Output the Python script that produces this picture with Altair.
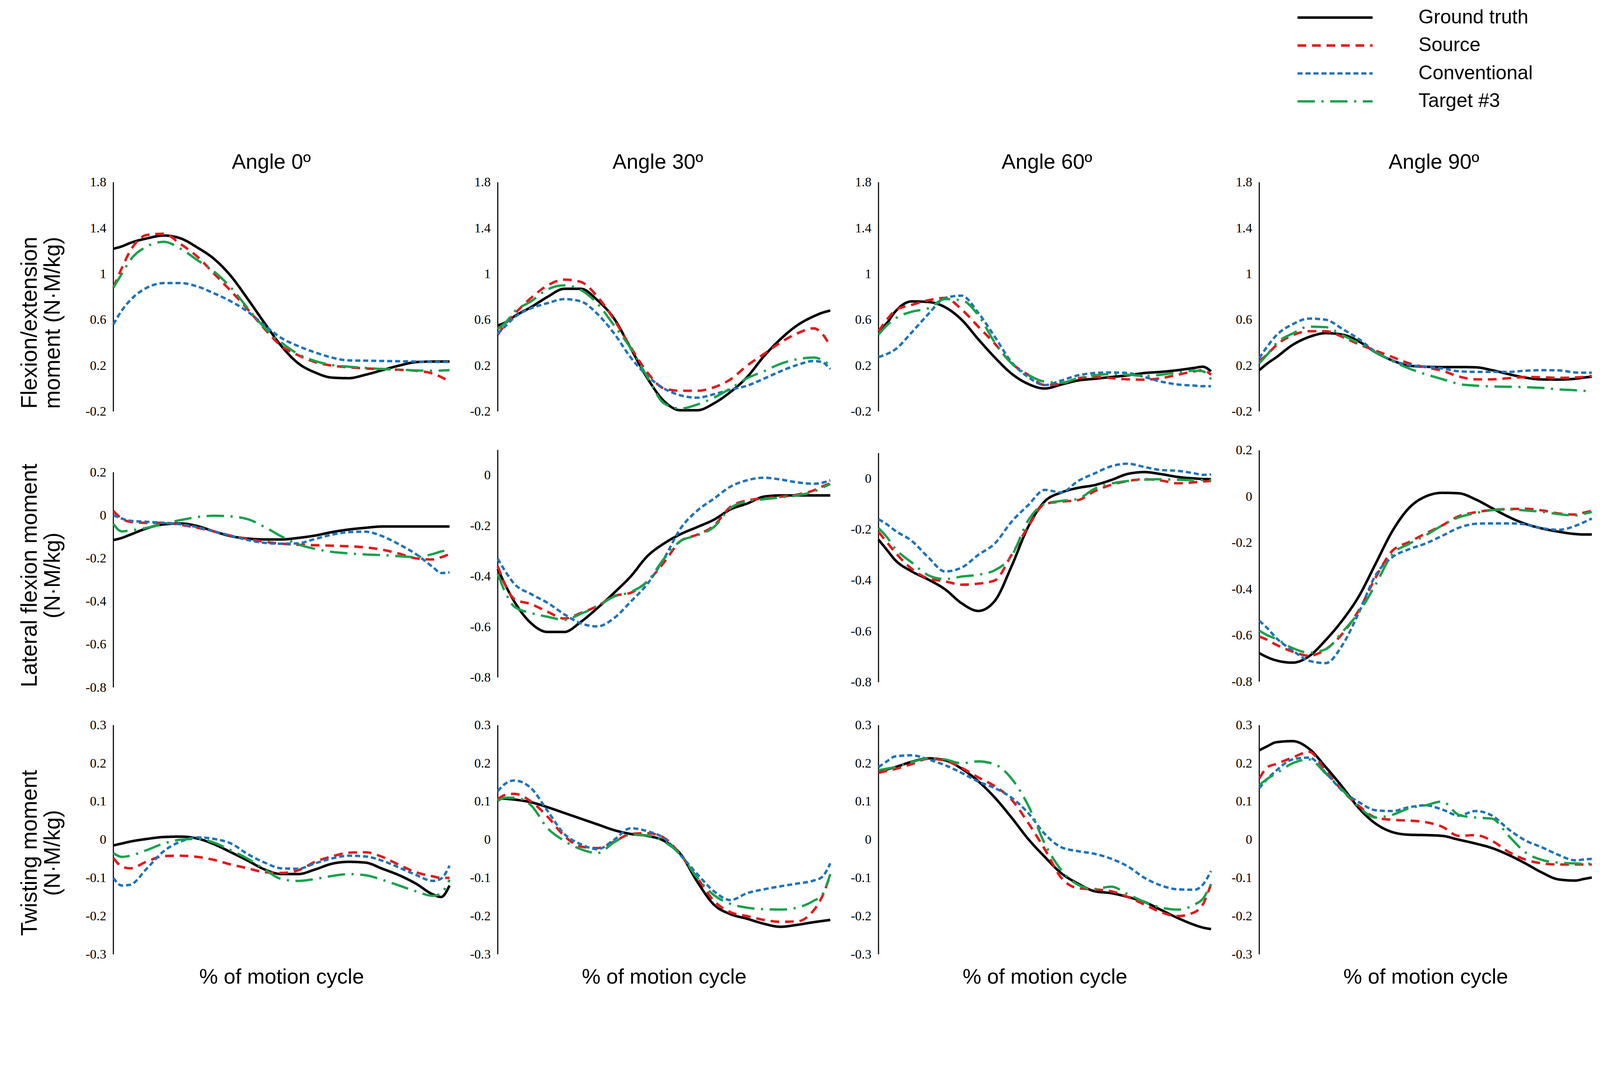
import altair as alt
import pandas as pd

# ---------------- data ----------------
X = [0, 2.5, 5, 10, 15, 20, 25, 30, 35, 40, 45, 50, 55, 60, 65, 70, 75, 80, 85, 90, 95, 97.5, 100]
SERIES = ["Ground truth", "Source", "Conventional", "Target #3"]
COLORS = ["#000000", "#e3191c", "#1f73b8", "#17a24b"]
DASHES = [[1, 0], [24, 16], [14, 8], [48, 18, 6, 18]]
WIDTHS = [7, 6.5, 6.5, 6.5]
ANGLES = ["Angle 0º", "Angle 30º", "Angle 60º", "Angle 90º"]
ROW_TITLES = [["Flexion/extension", "moment (N·M/kg)"],
              ["Lateral flexion moment", "(N·M/kg)"],
              ["Twisting moment", "(N·M/kg)"]]
X_TITLE = "% of motion cycle"

TICKS_R1 = [-0.2, 0.2, 0.6, 1, 1.4, 1.8]
TICKS_R2_A = [-0.8, -0.6, -0.4, -0.2, 0, 0.2]
TICKS_R2_B = [-0.8, -0.6, -0.4, -0.2, 0]
TICKS_R3 = [-0.3, -0.2, -0.1, 0, 0.1, 0.2, 0.3]

# Row 1: flexion/extension
R1C1_GT = [1.22, 1.24, 1.27, 1.31, 1.335, 1.31, 1.23, 1.13, 0.98, 0.78, 0.57, 0.37, 0.22, 0.14, 0.095, 0.09, 0.12, 0.16, 0.2, 0.23, 0.235, 0.235, 0.235]
R1C1_SRC = [0.88, 1.05, 1.2, 1.34, 1.35, 1.26, 1.15, 1.0, 0.85, 0.69, 0.52, 0.37, 0.29, 0.23, 0.2, 0.185, 0.175, 0.17, 0.163, 0.155, 0.13, 0.1, 0.06]
R1C1_CONV = [0.56, 0.68, 0.77, 0.88, 0.92, 0.92, 0.89, 0.83, 0.76, 0.67, 0.55, 0.44, 0.37, 0.315, 0.27, 0.245, 0.243, 0.24, 0.238, 0.235, 0.232, 0.232, 0.232]
R1C1_TGT = [0.88, 1.0, 1.12, 1.24, 1.28, 1.22, 1.12, 1.02, 0.88, 0.7, 0.53, 0.4, 0.3, 0.24, 0.205, 0.19, 0.18, 0.17, 0.165, 0.158, 0.155, 0.157, 0.16]

R1C2_GT = [0.55, 0.58, 0.63, 0.71, 0.80, 0.87, 0.87, 0.77, 0.61, 0.35, 0.09, -0.11, -0.19, -0.19, -0.13, -0.03, 0.1, 0.28, 0.43, 0.55, 0.63, 0.66, 0.68]
R1C2_SRC = [0.47, 0.57, 0.65, 0.79, 0.9, 0.95, 0.93, 0.8, 0.6, 0.36, 0.14, 0.0, -0.02, -0.02, 0.01, 0.08, 0.2, 0.3, 0.4, 0.48, 0.525, 0.48, 0.37]
R1C2_CONV = [0.48, 0.55, 0.62, 0.7, 0.745, 0.78, 0.76, 0.65, 0.48, 0.27, 0.11, 0.0, -0.06, -0.08, -0.05, -0.01, 0.025, 0.085, 0.15, 0.205, 0.24, 0.23, 0.17]
R1C2_TGT = [0.52, 0.58, 0.67, 0.76, 0.865, 0.9, 0.86, 0.74, 0.55, 0.35, 0.1, -0.13, -0.175, -0.14, -0.08, 0.0, 0.09, 0.15, 0.215, 0.255, 0.27, 0.25, 0.2]

R1C3_GT = [0.5, 0.57, 0.67, 0.76, 0.755, 0.71, 0.6, 0.43, 0.27, 0.13, 0.04, 0.0, 0.035, 0.07, 0.085, 0.1, 0.115, 0.135, 0.145, 0.16, 0.18, 0.19, 0.15]
R1C3_SRC = [0.5, 0.6, 0.68, 0.73, 0.77, 0.79, 0.69, 0.54, 0.39, 0.22, 0.12, 0.03, 0.04, 0.09, 0.1, 0.09, 0.08, 0.077, 0.09, 0.12, 0.15, 0.16, 0.12]
R1C3_CONV = [0.275, 0.3, 0.34, 0.49, 0.65, 0.79, 0.81, 0.66, 0.45, 0.23, 0.1, 0.03, 0.07, 0.115, 0.135, 0.14, 0.135, 0.1, 0.06, 0.035, 0.025, 0.02, 0.02]
R1C3_TGT = [0.47, 0.55, 0.61, 0.67, 0.7, 0.78, 0.77, 0.64, 0.4, 0.22, 0.12, 0.06, 0.05, 0.09, 0.115, 0.125, 0.12, 0.11, 0.12, 0.14, 0.155, 0.15, 0.08]

R1C4_GT = [0.16, 0.22, 0.27, 0.38, 0.45, 0.483, 0.47, 0.41, 0.315, 0.245, 0.2, 0.19, 0.187, 0.187, 0.185, 0.16, 0.125, 0.095, 0.079, 0.078, 0.085, 0.095, 0.103]
R1C4_SRC = [0.24, 0.3, 0.375, 0.465, 0.5, 0.5, 0.45, 0.385, 0.33, 0.275, 0.22, 0.185, 0.155, 0.105, 0.08, 0.08, 0.09, 0.1, 0.098, 0.093, 0.096, 0.1, 0.11]
R1C4_CONV = [0.265, 0.37, 0.46, 0.56, 0.61, 0.6, 0.52, 0.43, 0.32, 0.245, 0.205, 0.19, 0.175, 0.15, 0.145, 0.145, 0.145, 0.155, 0.16, 0.158, 0.14, 0.138, 0.138]
R1C4_TGT = [0.22, 0.3, 0.39, 0.48, 0.54, 0.535, 0.465, 0.395, 0.315, 0.24, 0.175, 0.125, 0.082, 0.04, 0.025, 0.018, 0.015, 0.012, 0.005, -0.008, -0.015, -0.02, -0.024]

# Row 2: lateral flexion
R2C1_GT = [-0.115, -0.105, -0.09, -0.06, -0.042, -0.038, -0.05, -0.075, -0.097, -0.108, -0.112, -0.112, -0.105, -0.094, -0.078, -0.066, -0.058, -0.052, -0.052, -0.052, -0.052, -0.052, -0.052]
R2C1_SRC = [0.02, -0.015, -0.03, -0.035, -0.035, -0.044, -0.058, -0.075, -0.095, -0.11, -0.123, -0.132, -0.137, -0.139, -0.141, -0.144, -0.149, -0.16, -0.178, -0.2, -0.205, -0.195, -0.18]
R2C1_CONV = [0.0, -0.015, -0.025, -0.03, -0.035, -0.042, -0.055, -0.075, -0.095, -0.115, -0.128, -0.132, -0.13, -0.11, -0.09, -0.078, -0.076, -0.097, -0.135, -0.18, -0.24, -0.268, -0.265]
R2C1_TGT = [-0.04, -0.075, -0.07, -0.058, -0.04, -0.022, -0.008, -0.002, -0.005, -0.018, -0.054, -0.098, -0.135, -0.156, -0.17, -0.177, -0.182, -0.185, -0.19, -0.194, -0.18, -0.168, -0.16]

R2C2_GT = [-0.37, -0.44, -0.5, -0.585, -0.62, -0.62, -0.58, -0.525, -0.465, -0.4, -0.32, -0.27, -0.233, -0.205, -0.176, -0.135, -0.112, -0.085, -0.08, -0.08, -0.08, -0.08, -0.08]
R2C2_SRC = [-0.36, -0.44, -0.49, -0.51, -0.54, -0.567, -0.545, -0.517, -0.478, -0.465, -0.42, -0.345, -0.26, -0.235, -0.2, -0.125, -0.1, -0.092, -0.085, -0.077, -0.06, -0.045, -0.032]
R2C2_CONV = [-0.33, -0.385, -0.43, -0.47, -0.505, -0.55, -0.586, -0.598, -0.565, -0.5, -0.43, -0.33, -0.21, -0.14, -0.093, -0.045, -0.02, -0.01, -0.017, -0.028, -0.034, -0.03, -0.02]
R2C2_TGT = [-0.39, -0.47, -0.52, -0.545, -0.56, -0.572, -0.548, -0.518, -0.48, -0.462, -0.42, -0.33, -0.26, -0.238, -0.205, -0.13, -0.103, -0.095, -0.088, -0.08, -0.065, -0.05, -0.035]

R2C3_GT = [-0.24, -0.28, -0.32, -0.365, -0.397, -0.435, -0.49, -0.52, -0.48, -0.345, -0.19, -0.09, -0.055, -0.037, -0.026, -0.006, 0.018, 0.025, 0.017, 0.006, 0.0, -0.002, -0.003]
R2C3_SRC = [-0.21, -0.25, -0.29, -0.355, -0.393, -0.404, -0.417, -0.413, -0.4, -0.3, -0.19, -0.1, -0.091, -0.085, -0.05, -0.025, -0.01, -0.003, -0.008, -0.019, -0.015, -0.012, -0.01]
R2C3_CONV = [-0.16, -0.18, -0.205, -0.245, -0.31, -0.365, -0.35, -0.3, -0.255, -0.17, -0.105, -0.045, -0.055, -0.01, 0.02, 0.048, 0.058, 0.045, 0.033, 0.03, 0.02, 0.014, 0.016]
R2C3_TGT = [-0.195, -0.23, -0.275, -0.33, -0.38, -0.395, -0.385, -0.378, -0.36, -0.305, -0.165, -0.1, -0.088, -0.08, -0.04, -0.02, -0.01, -0.005, -0.003, -0.005, -0.006, -0.006, -0.006]

R2C4_GT = [-0.677, -0.695, -0.708, -0.718, -0.69, -0.62, -0.535, -0.43, -0.29, -0.15, -0.05, 0.0, 0.016, 0.014, -0.012, -0.05, -0.088, -0.118, -0.138, -0.152, -0.162, -0.164, -0.164]
R2C4_SRC = [-0.605, -0.62, -0.64, -0.67, -0.688, -0.66, -0.593, -0.49, -0.35, -0.235, -0.197, -0.16, -0.125, -0.085, -0.068, -0.058, -0.054, -0.053, -0.06, -0.073, -0.078, -0.07, -0.062]
R2C4_CONV = [-0.537, -0.57, -0.61, -0.665, -0.71, -0.72, -0.642, -0.5, -0.34, -0.262, -0.228, -0.203, -0.17, -0.135, -0.118, -0.116, -0.116, -0.12, -0.137, -0.144, -0.127, -0.112, -0.095]
R2C4_TGT = [-0.58, -0.6, -0.615, -0.655, -0.675, -0.66, -0.585, -0.5, -0.38, -0.25, -0.205, -0.168, -0.125, -0.09, -0.072, -0.059, -0.056, -0.06, -0.066, -0.076, -0.082, -0.075, -0.067]

# Row 3: twisting
R3C1_GT = [-0.015, -0.01, -0.005, 0.002, 0.007, 0.008, 0.003, -0.012, -0.033, -0.055, -0.078, -0.09, -0.09, -0.078, -0.063, -0.058, -0.06, -0.076, -0.093, -0.115, -0.143, -0.15, -0.12]
R3C1_SRC = [-0.048, -0.07, -0.075, -0.057, -0.043, -0.042, -0.045, -0.053, -0.065, -0.075, -0.085, -0.087, -0.08, -0.058, -0.044, -0.034, -0.033, -0.045, -0.066, -0.085, -0.096, -0.1, -0.1]
R3C1_CONV = [-0.1, -0.12, -0.118, -0.075, -0.03, -0.005, 0.006, 0.002, -0.01, -0.038, -0.06, -0.075, -0.076, -0.062, -0.049, -0.042, -0.044, -0.055, -0.073, -0.092, -0.108, -0.102, -0.068]
R3C1_TGT = [-0.035, -0.045, -0.042, -0.027, -0.01, 0.0, 0.002, -0.008, -0.028, -0.05, -0.078, -0.103, -0.108, -0.103, -0.095, -0.09, -0.093, -0.105, -0.12, -0.135, -0.147, -0.14, -0.105]

R3C2_GT = [0.108, 0.107, 0.105, 0.098, 0.085, 0.07, 0.055, 0.04, 0.025, 0.015, 0.01, -0.003, -0.038, -0.11, -0.17, -0.195, -0.207, -0.22, -0.228, -0.223, -0.216, -0.213, -0.21]
R3C2_SRC = [0.106, 0.118, 0.12, 0.1, 0.06, 0.01, -0.018, -0.022, -0.005, 0.015, 0.017, 0.005, -0.04, -0.1, -0.16, -0.19, -0.2, -0.21, -0.215, -0.214, -0.185, -0.15, -0.092]
R3C2_CONV = [0.127, 0.148, 0.155, 0.135, 0.075, 0.015, -0.012, -0.025, 0.0, 0.03, 0.022, 0.004, -0.041, -0.09, -0.135, -0.158, -0.14, -0.13, -0.122, -0.115, -0.107, -0.098, -0.062]
R3C2_TGT = [0.102, 0.11, 0.11, 0.09, 0.03, -0.003, -0.025, -0.035, -0.007, 0.013, 0.011, -0.005, -0.04, -0.1, -0.145, -0.168, -0.178, -0.182, -0.183, -0.178, -0.16, -0.145, -0.09]

R3C3_GT = [0.177, 0.184, 0.19, 0.204, 0.213, 0.208, 0.186, 0.153, 0.11, 0.058, 0.002, -0.045, -0.088, -0.115, -0.135, -0.14, -0.15, -0.163, -0.184, -0.205, -0.223, -0.23, -0.234]
R3C3_SRC = [0.175, 0.18, 0.185, 0.198, 0.212, 0.207, 0.188, 0.163, 0.14, 0.105, 0.044, -0.025, -0.1, -0.127, -0.13, -0.135, -0.15, -0.17, -0.19, -0.2, -0.19, -0.17, -0.116]
R3C3_CONV = [0.19, 0.205, 0.218, 0.221, 0.21, 0.195, 0.175, 0.152, 0.135, 0.11, 0.07, 0.015, -0.02, -0.03, -0.037, -0.05, -0.07, -0.1, -0.12, -0.13, -0.131, -0.118, -0.082]
R3C3_TGT = [0.182, 0.186, 0.19, 0.203, 0.213, 0.21, 0.2, 0.205, 0.197, 0.16, 0.09, -0.01, -0.08, -0.118, -0.129, -0.123, -0.143, -0.163, -0.178, -0.183, -0.17, -0.155, -0.116]

R3C4_GT = [0.234, 0.245, 0.255, 0.258, 0.238, 0.19, 0.138, 0.082, 0.042, 0.02, 0.013, 0.012, 0.01, 0.0, -0.01, -0.022, -0.04, -0.062, -0.086, -0.104, -0.107, -0.103, -0.099]
R3C4_SRC = [0.16, 0.19, 0.198, 0.215, 0.23, 0.18, 0.128, 0.088, 0.058, 0.052, 0.05, 0.046, 0.034, 0.01, 0.012, -0.003, -0.032, -0.052, -0.062, -0.065, -0.065, -0.065, -0.065]
R3C4_CONV = [0.135, 0.16, 0.18, 0.21, 0.215, 0.175, 0.128, 0.098, 0.077, 0.075, 0.085, 0.09, 0.079, 0.063, 0.075, 0.063, 0.027, -0.002, -0.02, -0.04, -0.054, -0.052, -0.05]
R3C4_TGT = [0.143, 0.16, 0.173, 0.2, 0.21, 0.173, 0.13, 0.085, 0.058, 0.065, 0.082, 0.09, 0.1, 0.065, 0.058, 0.055, 0.01, -0.033, -0.053, -0.06, -0.062, -0.063, -0.063]

PANEL_DATA = [
    [(R1C1_GT, R1C1_SRC, R1C1_CONV, R1C1_TGT), (R1C2_GT, R1C2_SRC, R1C2_CONV, R1C2_TGT),
     (R1C3_GT, R1C3_SRC, R1C3_CONV, R1C3_TGT), (R1C4_GT, R1C4_SRC, R1C4_CONV, R1C4_TGT)],
    [(R2C1_GT, R2C1_SRC, R2C1_CONV, R2C1_TGT), (R2C2_GT, R2C2_SRC, R2C2_CONV, R2C2_TGT),
     (R2C3_GT, R2C3_SRC, R2C3_CONV, R2C3_TGT), (R2C4_GT, R2C4_SRC, R2C4_CONV, R2C4_TGT)],
    [(R3C1_GT, R3C1_SRC, R3C1_CONV, R3C1_TGT), (R3C2_GT, R3C2_SRC, R3C2_CONV, R3C2_TGT),
     (R3C3_GT, R3C3_SRC, R3C3_CONV, R3C3_TGT), (R3C4_GT, R3C4_SRC, R3C4_CONV, R3C4_TGT)],
]

# ---------------- layout / styling ----------------
COL_WIDTHS = [927, 917, 917, 917]
ROW_HEIGHTS = [632, 661, 632]
COL_SPACING = 133
ROW_SPACING = 102

Y_DOMAINS = [
    [[-0.2, 1.8]] * 4,
    [[-0.803, 0.311], [-0.842, 0.106], [-0.823, 0.118], [-0.828, 0.208]],
    [[-0.3, 0.3]] * 4,
]
Y_TICKS = [
    [TICKS_R1] * 4,
    [TICKS_R2_A, TICKS_R2_B, TICKS_R2_B, TICKS_R2_A],
    [TICKS_R3] * 4,
]
AXIS_SPAN = [
    [(-0.2, 1.8)] * 4,
    [(-0.8, 0.2), (-0.8, 0.1), (-0.8, 0.1), (-0.8, 0.2)],
    [(-0.3, 0.3)] * 4,
]
ROW_TITLE_Y = [387, 350, 352]
ANGLE_DX = [-28, -17, 6, 23]

SANS = "Liberation Sans"
SERIF = "Liberation Serif"

LEGEND = alt.Legend(
    title=None, orient="none", legendX=3262, legendY=-490,
    symbolType="stroke", symbolSize=42849, symbolStrokeWidth=8,
    clipHeight=72, rowPadding=5, padding=0,
    labelFont=SANS, labelFontSize=54, labelColor="black",
    labelOffset=123, labelLimit=800,
)


def long_df(lists):
    rows = []
    for name, vals in zip(SERIES, lists):
        for xv, v in zip(X, vals):
            rows.append({"x": xv, "value": v, "series": name})
    return pd.DataFrame(rows)


def make_panel(r, c):
    df = long_df(PANEL_DATA[r][c])
    yscale = alt.Scale(domain=Y_DOMAINS[r][c], nice=False, zero=False)
    axis_kw = dict(
        values=Y_TICKS[r][c], labelExpr="'' + datum.value",
        domain=False, ticks=False, grid=False,
        labelFont=SERIF, labelFontSize=36, labelColor="black", labelPadding=20,
    )
    if c == 0:
        axis_kw.update(
            title=ROW_TITLES[r], titleFont=SANS, titleFontSize=61,
            titleFontWeight="normal", titleColor="black", titleAngle=270,
            titleX=-212, titleY=ROW_TITLE_Y[r], titleBaseline="alphabetic",
            titleAlign="center", titleLineHeight=64,
        )
    else:
        axis_kw.update(title="")
    yaxis = alt.Axis(**axis_kw)

    if r == 2:
        xaxis = alt.Axis(labels=False, ticks=False, domain=False, grid=False,
                         title=X_TITLE, titleFont=SANS, titleFontSize=58,
                         titleFontWeight="normal", titleColor="black", titlePadding=34)
    else:
        xaxis = None

    lo, hi = AXIS_SPAN[r][c]
    rule = alt.Chart(pd.DataFrame({"lo": [lo], "hi": [hi]})).mark_rule(
        color="black", strokeWidth=3
    ).encode(
        x=alt.value(0),
        y=alt.Y("lo:Q", scale=yscale, axis=yaxis),
        y2="hi:Q",
    )

    lines = alt.Chart(df).mark_line(interpolate="monotone").encode(
        x=alt.X("x:Q", scale=alt.Scale(domain=[0, 100], nice=False, zero=False), axis=xaxis),
        y=alt.Y("value:Q", scale=yscale, axis=yaxis),
        color=alt.Color("series:N", scale=alt.Scale(domain=SERIES, range=COLORS), legend=LEGEND),
        strokeDash=alt.StrokeDash("series:N", scale=alt.Scale(domain=SERIES, range=DASHES), legend=LEGEND),
        strokeWidth=alt.StrokeWidth("series:N", scale=alt.Scale(domain=SERIES, range=WIDTHS), legend=None),
    )

    props = dict(width=COL_WIDTHS[c], height=ROW_HEIGHTS[r])
    if r == 0:
        props["title"] = alt.TitleParams(
            text=ANGLES[c], font=SANS, fontSize=58, fontWeight="normal",
            color="black", anchor="middle", frame="group", offset=7, dx=ANGLE_DX[c],
        )
    return alt.layer(rule, lines).properties(**props)


panels = [make_panel(r, c) for r in range(3) for c in range(4)]

chart = alt.concat(
    *panels, columns=4, spacing={"row": ROW_SPACING, "column": COL_SPACING}, bounds="flush"
).properties(
    padding={"left": 43, "top": -97, "right": 0, "bottom": 0},
    background="white",
).configure_view(strokeWidth=0)

chart.save("out.html", embed_options={"renderer": "svg", "actions": False})
